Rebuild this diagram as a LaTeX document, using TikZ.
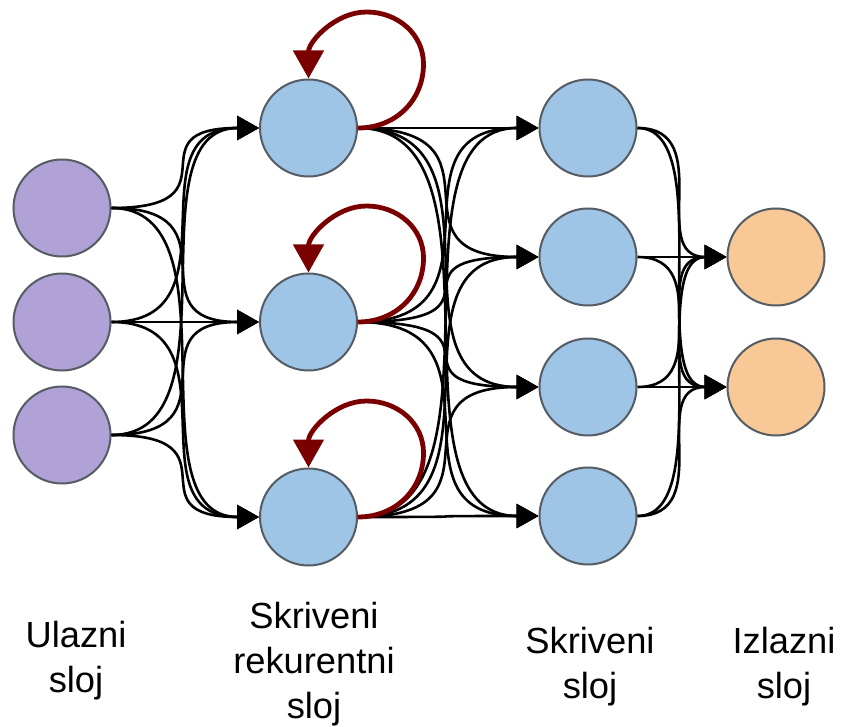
\documentclass[tikz,border=0pt]{standalone}
\usepackage{fontspec}
\newfontfamily\labfont{Liberation Sans}
\usetikzlibrary{arrows.meta,calc}
\definecolor{inpc}{RGB}{176,162,214}
\definecolor{hidc}{RGB}{158,196,230}
\definecolor{outc}{RGB}{248,200,150}
\definecolor{bordc}{RGB}{85,92,100}
\definecolor{loopc}{RGB}{122,0,0}
\begin{document}
\begin{tikzpicture}[x=0.5pt,y=-0.5pt,
  neuron/.style={circle,draw=bordc,line width=1pt,minimum size=48.5pt,inner sep=0pt},
  inp/.style={neuron,fill=inpc},
  hid/.style={neuron,fill=hidc},
  outn/.style={neuron,fill=outc},
  edge/.style={draw=black,line width=1.3pt,-{Triangle[length=11pt,width=12pt]}},
  loopedge/.style={draw=loopc,line width=2.4pt,-{Triangle[length=14pt,width=15pt]}},
  lab/.style={font=\labfont\fontsize{18.15pt}{22.3pt}\selectfont,align=center,inner sep=0pt,anchor=base}]
\useasboundingbox (0,0) rectangle (841,727);
% nodes
\node[inp] (i1) at (62,208) {};
\node[inp] (i2) at (62,322) {};
\node[inp] (i3) at (62,435) {};
\node[hid] (r1) at (308.5,128) {};
\node[hid] (r2) at (308.5,322) {};
\node[hid] (r3) at (308.5,517) {};
\node[hid] (h1) at (588,128) {};
\node[hid] (h2) at (588,257) {};
\node[hid] (h3) at (588,387) {};
\node[hid] (h4) at (588,516) {};
\node[outn] (o1) at (776,257) {};
\node[outn] (o2) at (776,387) {};
% connections
\foreach \a in {i1,i2,i3}
  \foreach \b in {r1,r2,r3}
    \draw[edge] (\a.east) .. controls +(130,0) and +(-130,0) .. (\b.west);
\foreach \a in {r1,r2,r3}
  \foreach \b in {h1,h2,h3,h4}
    \draw[edge] (\a.east) .. controls +(160,0) and +(-160,0) .. (\b.west);
\foreach \a in {h1,h2,h3,h4}
  \foreach \b in {o1,o2}
    \draw[edge] (\a.east) .. controls +(80,0) and +(-80,0) .. (\b.west);
% recurrent loops
\foreach \r in {r1,r2,r3}
  \draw[loopedge] (\r.east) .. controls +(38,0) and +(0,36) .. ($(\r)+(115,-64)$)
    .. controls +(0,-30) and +(31,0) .. ($(\r)+(58,-116)$)
    .. controls +(-31,0) and +(0,-37) .. (\r.north);
% labels
\node[lab] (l1) at (76,692) {Ulazni\\sloj};
\node[lab] (l2) at (314,718) {Skriveni\\rekurentni\\sloj};
\node[lab] (l3) at (590,698) {Skriveni\\sloj};
\node[lab] (l4) at (784,698) {Izlazni\\sloj};
\end{tikzpicture}
\end{document}
